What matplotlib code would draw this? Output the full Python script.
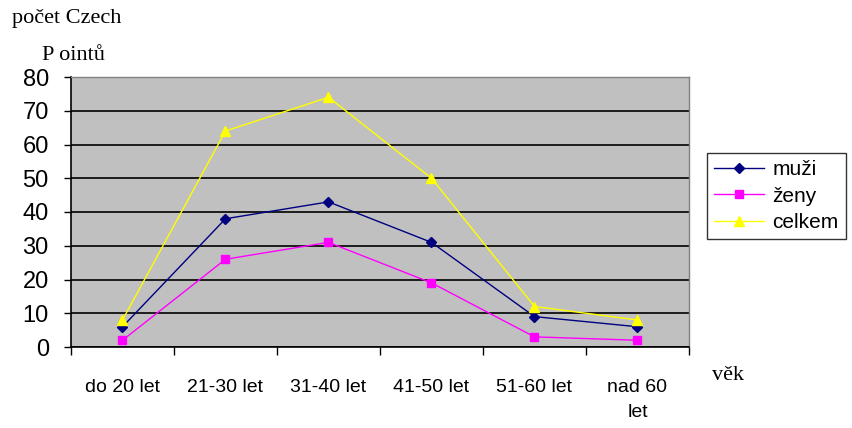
import matplotlib.pyplot as plt
from matplotlib.lines import Line2D

# age groups and counts
categories = ['do 20 let', '21-30 let', '31-40 let', '41-50 let', '51-60 let', 'nad 60\nlet']
muzi = [6, 38, 43, 31, 9, 6]
zeny = [2, 26, 31, 19, 3, 2]
celkem = [8, 64, 74, 50, 12, 8]

series = [
    ('muži', muzi, '#000080', 'D', 5),
    ('ženy', zeny, '#FF00FF', 's', 6),
    ('celkem', celkem, '#FFFF00', '^', 7),
]

SANS = 'Liberation Sans'
SERIF = 'Liberation Serif'

fig = plt.figure(figsize=(8.53, 4.28), dpi=100)
ax = fig.add_axes([71 / 853, 1 - 347 / 428, 618 / 853, 270 / 428])
ax.set_facecolor('#C0C0C0')

x = [i + 0.5 for i in range(len(categories))]
for name, vals, col, mk, ms in series:
    ax.plot(x, vals, color=col, marker=mk, markersize=ms, linewidth=1,
            markeredgecolor=col, label=name, zorder=3)

ax.set_xlim(0, len(categories))
ax.set_ylim(0, 80)
ax.set_yticks(range(0, 81, 10))
ax.yaxis.grid(True, color='black', linewidth=1.2, zorder=1)
ax.set_axisbelow(True)

# category ticks on boundaries, labels centred in between
ax.set_xticks(range(len(categories) + 1))
ax.set_xticklabels([])
ax.set_xticks(x, minor=True)
ax.set_xticklabels(categories, minor=True, family=SANS, fontsize=14,
                   linespacing=1.65, va='top')
ax.tick_params(axis='x', which='minor', length=0, pad=23)
ax.tick_params(axis='x', which='major', length=6, width=1, direction='out')
ax.tick_params(axis='y', length=5, width=1, direction='out', pad=11)
for lab in ax.get_yticklabels():
    lab.set_family(SANS)
    lab.set_fontsize(17)

for side in ['top', 'right']:
    ax.spines[side].set_color('#808080')
    ax.spines[side].set_linewidth(1)
for side in ['left', 'bottom']:
    ax.spines[side].set_color('black')
    ax.spines[side].set_linewidth(1.2)

fig.text(12 / 853, 1 - 18 / 428, 'počet Czech', family=SERIF,
         fontsize=16, va='center', ha='left')
fig.text(42 / 853, 1 - 56 / 428, 'P ointů', family=SERIF,
         fontsize=16, va='center', ha='left')
fig.text(712 / 853, 1 - 375 / 428, 'věk', family=SERIF,
         fontsize=16, va='center', ha='left')

handles = [Line2D([0], [0], color=c, marker=m, markersize=ms, linewidth=1)
           for _, _, c, m, ms in series]
leg = fig.legend(handles, [s[0] for s in series], loc='upper left',
                 bbox_to_anchor=(707 / 853, 1 - 153 / 428),
                 prop={'family': SANS, 'size': 15},
                 frameon=True, fancybox=False, edgecolor='black',
                 handlelength=2.4, borderpad=0.35, labelspacing=0.35,
                 handletextpad=0.4, borderaxespad=0)
leg.get_frame().set_linewidth(1)

fig.savefig('out.png', dpi=100)
